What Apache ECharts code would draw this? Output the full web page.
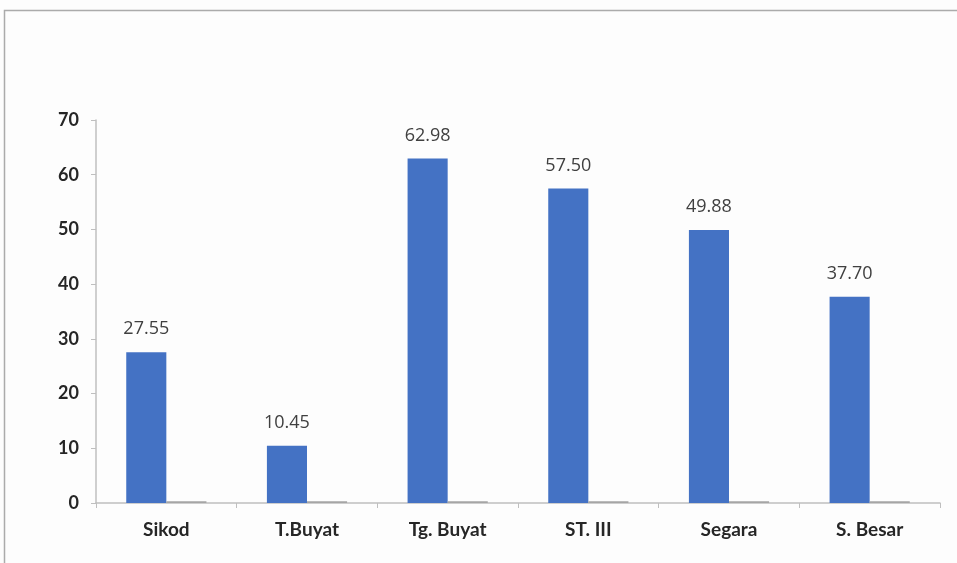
<!DOCTYPE html>
<html>
<head>
<meta charset="utf-8">
<script src="https://cdn.jsdelivr.net/npm/echarts@6/dist/echarts.min.js"></script>
<style>
  html, body { margin: 0; padding: 0; background: #fdfdfd; }
  #chart { width: 957px; height: 563px; }
</style>
</head>
<body>
<div id="chart"></div>
<script>
// Stations along the river
const categories = ['Sikod', 'T.Buyat', 'Tg. Buyat', 'ST. III', 'Segara', 'S. Besar'];
// Main measured values
const mainValues = [27.55, 10.45, 62.98, 57.50, 49.88, 37.70];
// Second, near-zero series drawn beside each bar
const minorValues = [0.3, 0.3, 0.3, 0.3, 0.3, 0.3];
// Value axis ticks
const yTicks = [0, 10, 20, 30, 40, 50, 60, 70];

const chart = echarts.init(document.getElementById('chart'), null, { renderer: 'canvas' });

chart.setOption({
  animation: false,
  backgroundColor: '#fdfdfd',
  graphic: [{
    type: 'rect',
    shape: { x: 4.5, y: 10.5, width: 1100, height: 1100 },
    style: { fill: 'none', stroke: '#ababab', lineWidth: 1.5 },
    silent: true
  }],
  grid: { left: 96, right: 17, top: 120, bottom: 60, containLabel: false },
  xAxis: {
    type: 'category',
    data: categories,
    axisLine: { lineStyle: { color: '#bfbfbf', width: 1.5 } },
    axisTick: { show: true, length: 5, lineStyle: { color: '#bfbfbf' } },
    axisLabel: {
      margin: 17,
      color: '#262626',
      fontFamily: 'Lato, "Open Sans", sans-serif',
      fontWeight: 'bold',
      fontSize: 19
    }
  },
  yAxis: {
    type: 'value',
    min: yTicks[0],
    max: yTicks[yTicks.length - 1],
    interval: 10,
    splitLine: { show: false },
    axisLine: { show: true, lineStyle: { color: '#bfbfbf', width: 1.5 } },
    axisTick: { show: true, length: 5, lineStyle: { color: '#bfbfbf' } },
    axisLabel: {
      margin: 17,
      color: '#262626',
      fontFamily: 'Lato, "Open Sans", sans-serif',
      fontWeight: 'bold',
      fontSize: 18
    }
  },
  series: [
    {
      type: 'bar',
      data: mainValues,
      barGap: '0%',
      barCategoryGap: '43%',
      itemStyle: { color: '#4472c4' },
      label: {
        show: true,
        position: 'top',
        distance: 14,
        formatter: p => p.value.toFixed(2),
        color: '#404040',
        fontFamily: '"Open Sans", Lato, sans-serif',
        fontSize: 18
      }
    },
    {
      type: 'bar',
      data: minorValues,
      itemStyle: { color: '#a5a5a5' }
    }
  ]
});
</script>
</body>
</html>
